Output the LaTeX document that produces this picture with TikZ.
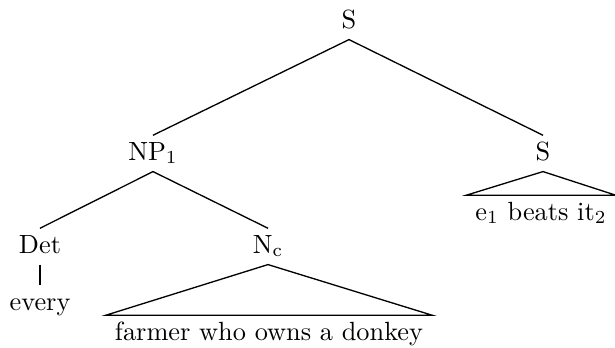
\documentclass[tikz,border=0pt]{standalone}
\begin{document}
\begin{tikzpicture}[x=0.38pt,y=-0.38pt,
  lbl/.style={anchor=base,inner ysep=2.2pt,inner xsep=3.33pt,text height=7pt,text depth=2pt},
  edge/.style={draw,line width=0.5pt}]
\useasboundingbox (0,0) rectangle (615,347);
\node[lbl] (S) at (349,28) {S};
\node[lbl] (NP) at (153,160) {NP$_1$};
\node[lbl] (S2) at (543,160) {S};
\node[lbl] (Det) at (40,253) {Det};
\node[lbl] (Nc) at (268,253) {N$_{\mathrm{c}}$};
\node[lbl] (every) at (40,310) {every};
\node[lbl] (farmer) at (269,340) {farmer who owns a donkey};
\node[lbl] (e) at (541,220) {e$_1$ beats it$_2$};
\path[edge] (S.south) -- (NP.north);
\path[edge] (S.south) -- (S2.north);
\path[edge] (NP.south) -- (Det.north);
\path[edge] (NP.south) -- (Nc.north);
\path[edge] (Det.south) -- (every.north);
\path[edge] (Nc.south) -- (farmer.north west) -- (farmer.north east) -- cycle;
\path[edge] (S2.south) -- (e.north west) -- (e.north east) -- cycle;
\end{tikzpicture}
\end{document}
